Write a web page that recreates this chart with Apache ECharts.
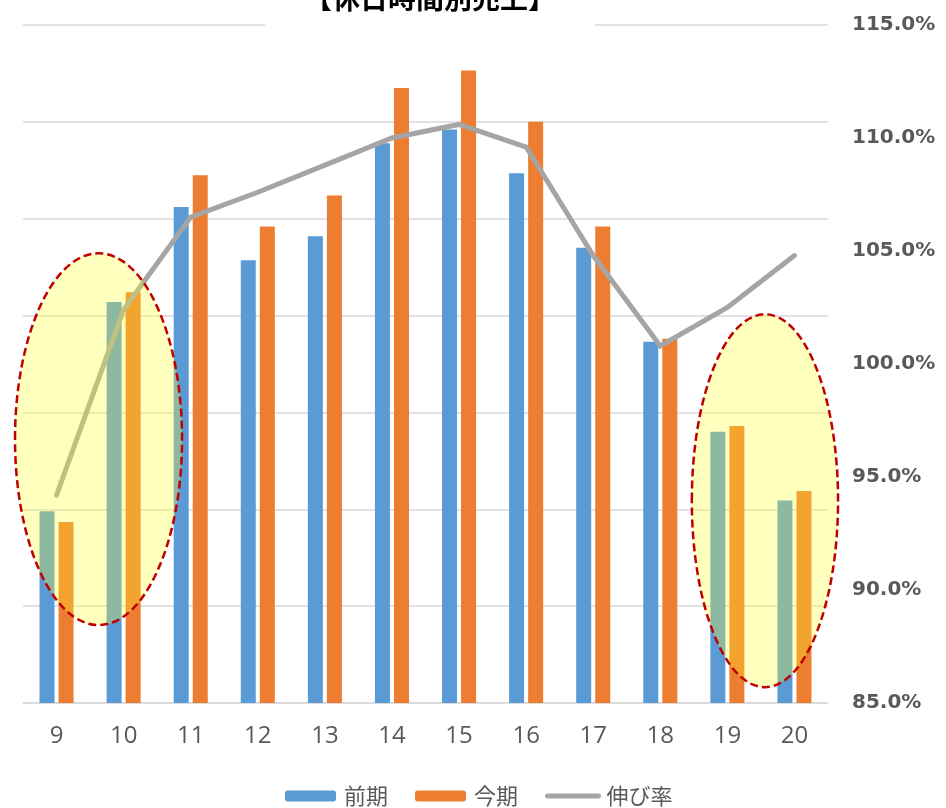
<!DOCTYPE html>
<html>
<head>
<meta charset="utf-8">
<script src="https://cdn.jsdelivr.net/npm/echarts@6/dist/echarts.min.js"></script>
<style>
html,body{margin:0;padding:0;background:#fff;}
#chart{width:946px;height:808px;}
</style>
</head>
<body>
<div id="chart"></div>
<script>
// ---- data ----
var titleText = '【休日時間別売上】';
var categories = ['9','10','11','12','13','14','15','16','17','18','19','20'];
var seriesNames = ['前期','今期','伸び率'];
var prevValues = [198, 414, 512, 457, 482, 578, 592, 547, 470, 373, 280, 209];
var currValues = [187, 424, 545, 492, 524, 635, 653, 600, 492, 376, 286, 219];
var growthRate = [94.2, 102.4, 106.5, 107.6, 108.8, 110.0, 110.6, 109.6, 104.8, 100.8, 102.5, 104.8];
var rateTicks = [85, 90, 95, 100, 105, 110, 115];
// highlighted regions: category index center / half width (in categories), rate range
var highlightCenters = [0.626, 10.56];
var highlightHalfWidths = [1.245, 1.09];
var highlightTops = [104.9, 102.2];
var highlightBottoms = [88.45, 85.7];

var chart = echarts.init(document.getElementById('chart'));
var gray = '#595959';
var option = {
  animation: false,
  backgroundColor: '#ffffff',
  title: {
    text: titleText,
    left: 265,
    top: -21,
    padding: [5, 39, 15, 39],
    backgroundColor: '#ffffff',
    textStyle: {fontFamily: '"Noto Sans CJK JP", sans-serif', fontSize: 28, fontWeight: 'bold', color: '#000'}
  },
  grid: {left: 23, right: 118, top: 25, bottom: 105, containLabel: false},
  legend: {
    data: [
      {name: seriesNames[0]},
      {name: seriesNames[1]},
      {name: seriesNames[2], itemStyle: {opacity: 0}, lineStyle: {width: 5, cap: 'round', color: '#A5A5A5'}}
    ],
    left: 280,
    top: 780,
    itemWidth: 51,
    itemHeight: 11,
    itemGap: 27,
    textStyle: {fontFamily: '"Noto Sans CJK JP", sans-serif', fontSize: 22, color: gray, padding: [0,0,0,3]}
  },
  xAxis: {
    type: 'category',
    data: categories,
    axisLine: {lineStyle: {color: '#D9D9D9', width: 1.5}},
    axisTick: {show: false},
    axisLabel: {fontFamily: '"Open Sans", sans-serif', fontSize: 24, color: gray, margin: 21}
  },
  yAxis: [
    {
      type: 'value', min: 0, max: 700, interval: 100,
      axisLabel: {show: false}, axisLine: {show: false}, axisTick: {show: false},
      splitLine: {lineStyle: {color: '#D9D9D9', width: 1.5}}
    },
    {
      type: 'value', min: rateTicks[0], max: rateTicks[rateTicks.length-1], interval: 5,
      position: 'right',
      axisLine: {show: false}, axisTick: {show: false}, splitLine: {show: false},
      axisLabel: {
        formatter: function(v){ return v.toFixed(1) + '%'; },
        fontFamily: '"DejaVu Sans", Verdana, sans-serif', fontWeight: 'bold', fontSize: 20, color: gray, margin: 24
      }
    }
  ],
  series: [
    {name: seriesNames[0], type: 'bar', data: prevValues, barWidth: 15, barGap: '27%', itemStyle: {color: '#5B9BD5'}},
    {name: seriesNames[1], type: 'bar', data: currValues, barWidth: 15, itemStyle: {color: '#ED7D31'}},
    {name: seriesNames[2], type: 'line', yAxisIndex: 1, data: growthRate, symbol: 'none',
     lineStyle: {color: '#A5A5A5', width: 5, cap: 'round', join: 'miter'}, itemStyle: {color: '#A5A5A5'}, z: 5}
  ]
};
chart.setOption(option);

// highlight ellipses positioned through the axes
var x0 = chart.convertToPixel({xAxisIndex: 0}, categories[0]);
var x1 = chart.convertToPixel({xAxisIndex: 0}, categories[1]);
var step = x1 - x0;
var graphics = [];
for (var i = 0; i < highlightCenters.length; i++) {
  var cx = x0 + highlightCenters[i] * step;
  var yt = chart.convertToPixel({yAxisIndex: 1}, highlightTops[i]);
  var yb = chart.convertToPixel({yAxisIndex: 1}, highlightBottoms[i]);
  graphics.push({
    type: 'ellipse',
    z: 100,
    shape: {cx: cx, cy: (yt + yb) / 2, rx: highlightHalfWidths[i] * step, ry: (yb - yt) / 2},
    style: {fill: 'rgba(255,255,40,0.3)', stroke: '#C00000', lineWidth: 2.5, lineDash: [8, 4]}
  });
}
chart.setOption({graphic: graphics});
</script>
</body>
</html>
